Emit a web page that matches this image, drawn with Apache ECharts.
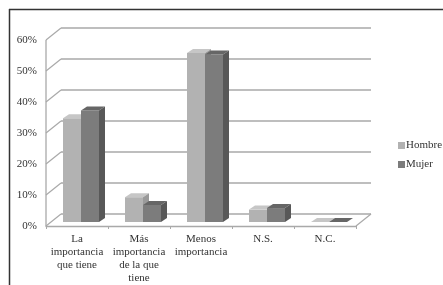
<!DOCTYPE html>
<html>
<head>
<meta charset="utf-8">
<script src="https://cdn.jsdelivr.net/npm/echarts@6/dist/echarts.min.js"></script>
<style>
html, body { margin: 0; padding: 0; background: #fff; }
#main { width: 443px; height: 285px; }
</style>
</head>
<body>
<div id="main"></div>
<script>
var categories = ['La\nimportancia\nque tiene', 'Más\nimportancia\nde la que\ntiene', 'Menos\nimportancia', 'N.S.', 'N.C.'];
var hombre = [33.5, 8, 54.5, 4, 0];
var mujer = [36, 5.5, 54, 4.5, 0];
var yTicks = [0, 10, 20, 30, 40, 50, 60];

// depth of the 3d box
var DX = 15, DY = -12;
// bars sit a bit behind the front edge
var OX = 4, OY = -4;
var BAR_W = 18, TDX = 6, TDY = -4;

var myChart = echarts.init(document.getElementById('main'));

function barItem(idx, front, top, side) {
	return function (params, api) {
		var c = api.value(0);
		var p = api.coord([c, api.value(1)]);
		var b = api.coord([c, 0]);
		var x1 = idx === 0 ? p[0] + OX - BAR_W : p[0] + OX;
		var x2 = x1 + BAR_W;
		var yt = p[1] + OY;
		var yb = b[1] + OY;
		return {
			type: 'group',
			children: [
				{ type: 'rect', shape: { x: x1, y: yt, width: BAR_W, height: yb - yt }, style: { fill: front } },
				{ type: 'polygon', shape: { points: [[x1, yt], [x2, yt], [x2 + TDX, yt + TDY], [x1 + TDX, yt + TDY]] }, style: { fill: top } },
				{ type: 'polygon', shape: { points: [[x2, yt], [x2 + TDX, yt + TDY], [x2 + TDX, yb + TDY], [x2, yb]] }, style: { fill: side } }
			]
		};
	};
}

function frameItem(params, api) {
	var cs = params.coordSys;
	var v = api.value(0);
	var y = api.coord([0, v])[1];
	var x0 = cs.x, x1 = cs.x + cs.width;
	var st = { stroke: '#a9a9a9', lineWidth: 1.3 };
	var kids = [
		{ type: 'line', shape: { x1: x0, y1: y, x2: x0 + DX, y2: y + DY }, style: st },
		{ type: 'line', shape: { x1: x0 + DX, y1: y + DY, x2: x1 + DX, y2: y + DY }, style: st }
	];
	if (v === 0) {
		kids.push({ type: 'line', shape: { x1: x1, y1: y, x2: x1 + DX, y2: y + DY }, style: st });
		kids.push({ type: 'line', shape: { x1: x0, y1: y, x2: x0, y2: cs.y }, style: st });
	}
	return { type: 'group', children: kids };
}

var font = '"Liberation Serif", "DejaVu Serif", serif';

var option = {
	animation: false,
	grid: { left: 46, right: 87, top: 40, bottom: 59 },
	graphic: [
		{ type: 'line', shape: { x1: 9, y1: 9.5, x2: 443, y2: 9.5 }, style: { stroke: '#333', lineWidth: 1.5 } },
		{ type: 'line', shape: { x1: 9.5, y1: 9, x2: 9.5, y2: 285 }, style: { stroke: '#333', lineWidth: 1.5 } }
	],
	legend: {
		orient: 'vertical',
		left: 393,
		top: 135,
		itemWidth: 7,
		itemHeight: 7,
		itemGap: 8,
		icon: 'rect',
		textStyle: { fontFamily: font, fontSize: 11, color: '#333', padding: [0, 0, 0, -4] },
		data: ['Hombre', 'Mujer']
	},
	xAxis: {
		type: 'category',
		data: categories,
		axisLine: { show: true, lineStyle: { color: '#a9a9a9', width: 1.3 } },
		axisTick: { show: true, length: 3, lineStyle: { color: '#a9a9a9' } },
		axisLabel: { fontFamily: font, fontSize: 11, color: '#333', lineHeight: 13, margin: 7, interval: 0 }
	},
	yAxis: {
		type: 'value',
		min: 0,
		max: 60,
		interval: 10,
		axisLine: { show: false },
		axisTick: { show: false },
		splitLine: { show: false },
		axisLabel: { fontFamily: font, fontSize: 11, color: '#333', margin: 9, formatter: '{value}%' }
	},
	series: [
		{
			name: 'frame',
			type: 'custom',
			z: 1,
			silent: true,
			renderItem: frameItem,
			encode: { y: 0 },
			data: yTicks.map(function (v) { return [v]; })
		},
		{
			name: 'Hombre',
			type: 'custom',
			z: 2,
			itemStyle: { color: '#b2b2b2' },
			renderItem: barItem(0, '#b2b2b2', '#c6c6c6', '#9a9a9a'),
			encode: { x: 0, y: 1 },
			data: hombre.map(function (v, i) { return [i, v]; })
		},
		{
			name: 'Mujer',
			type: 'custom',
			z: 3,
			itemStyle: { color: '#7c7c7c' },
			renderItem: barItem(1, '#7c7c7c', '#666666', '#585858'),
			encode: { x: 0, y: 1 },
			data: mujer.map(function (v, i) { return [i, v]; })
		}
	]
};

myChart.setOption(option);
</script>
</body>
</html>
